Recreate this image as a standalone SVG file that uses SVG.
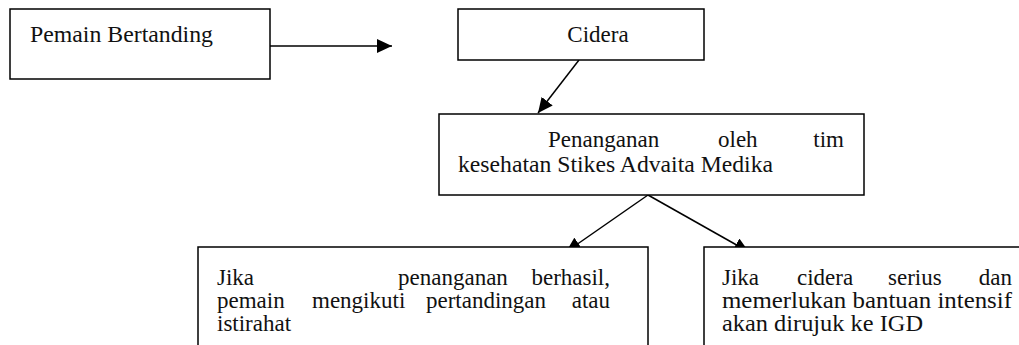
<svg xmlns="http://www.w3.org/2000/svg" width="1019" height="345" viewBox="0 0 1019 345">
<style>
.box{fill:#fff;stroke:#000;stroke-width:1.5}
.c{stroke:#000;stroke-width:1.5;fill:none}
text{font-family:"Liberation Serif","DejaVu Serif","Times New Roman",serif;font-size:23px;fill:#111}
.e{text-anchor:end}
</style>
<defs>
<marker id="ah" markerUnits="userSpaceOnUse" markerWidth="16" markerHeight="14" refX="15" refY="7" orient="auto" viewBox="0 0 16 14">
<path d="M0,0 L15,7 L0,14 z" fill="#000"/>
</marker>
</defs>
<g id="connectors">
<line class="c" x1="270" y1="46" x2="392" y2="46" marker-end="url(#ah)"/>
<line class="c" x1="579" y1="60" x2="538" y2="113" marker-end="url(#ah)"/>
<line class="c" x1="648" y1="195" x2="566" y2="252" marker-end="url(#ah)"/>
<line class="c" x1="648" y1="195" x2="749" y2="252" marker-end="url(#ah)"/>
</g>
<g id="pemain">
<rect class="box" x="10" y="9" width="260" height="70"/>
<text x="30" y="42" textLength="183" lengthAdjust="spacingAndGlyphs">Pemain Bertanding</text>
</g>
<g id="cidera">
<rect class="box" x="458" y="9" width="246" height="51"/>
<text x="598" y="42" text-anchor="middle">Cidera</text>
</g>
<g id="penanganan">
<rect class="box" x="439" y="114" width="425" height="81"/>
<text x="548" y="147">Penanganan</text>
<text x="718" y="147">oleh</text>
<text class="e" x="844" y="147">tim</text>
<text x="458" y="172" textLength="315" lengthAdjust="spacingAndGlyphs">kesehatan Stikes Advaita Medika</text>
</g>
<g id="berhasil">
<rect class="box" x="198" y="247" width="450" height="110"/>
<text x="217" y="285">Jika</text>
<text x="398" y="285">penanganan</text>
<text class="e" x="610" y="285">berhasil,</text>
<text x="217" y="308">pemain</text>
<text x="312" y="308">mengikuti</text>
<text x="426" y="308">pertandingan</text>
<text class="e" x="610" y="308">atau</text>
<text x="217" y="331">istirahat</text>
</g>
<g id="serius">
<rect class="box" x="704" y="247" width="330" height="110"/>
<text x="722" y="285">Jika</text>
<text x="797" y="285">cidera</text>
<text x="888" y="285">serius</text>
<text class="e" x="1012" y="285">dan</text>
<text x="722" y="308" textLength="290" lengthAdjust="spacingAndGlyphs">memerlukan bantuan intensif</text>
<text x="722" y="331" textLength="201" lengthAdjust="spacingAndGlyphs">akan dirujuk ke IGD</text>
</g>
</svg>
